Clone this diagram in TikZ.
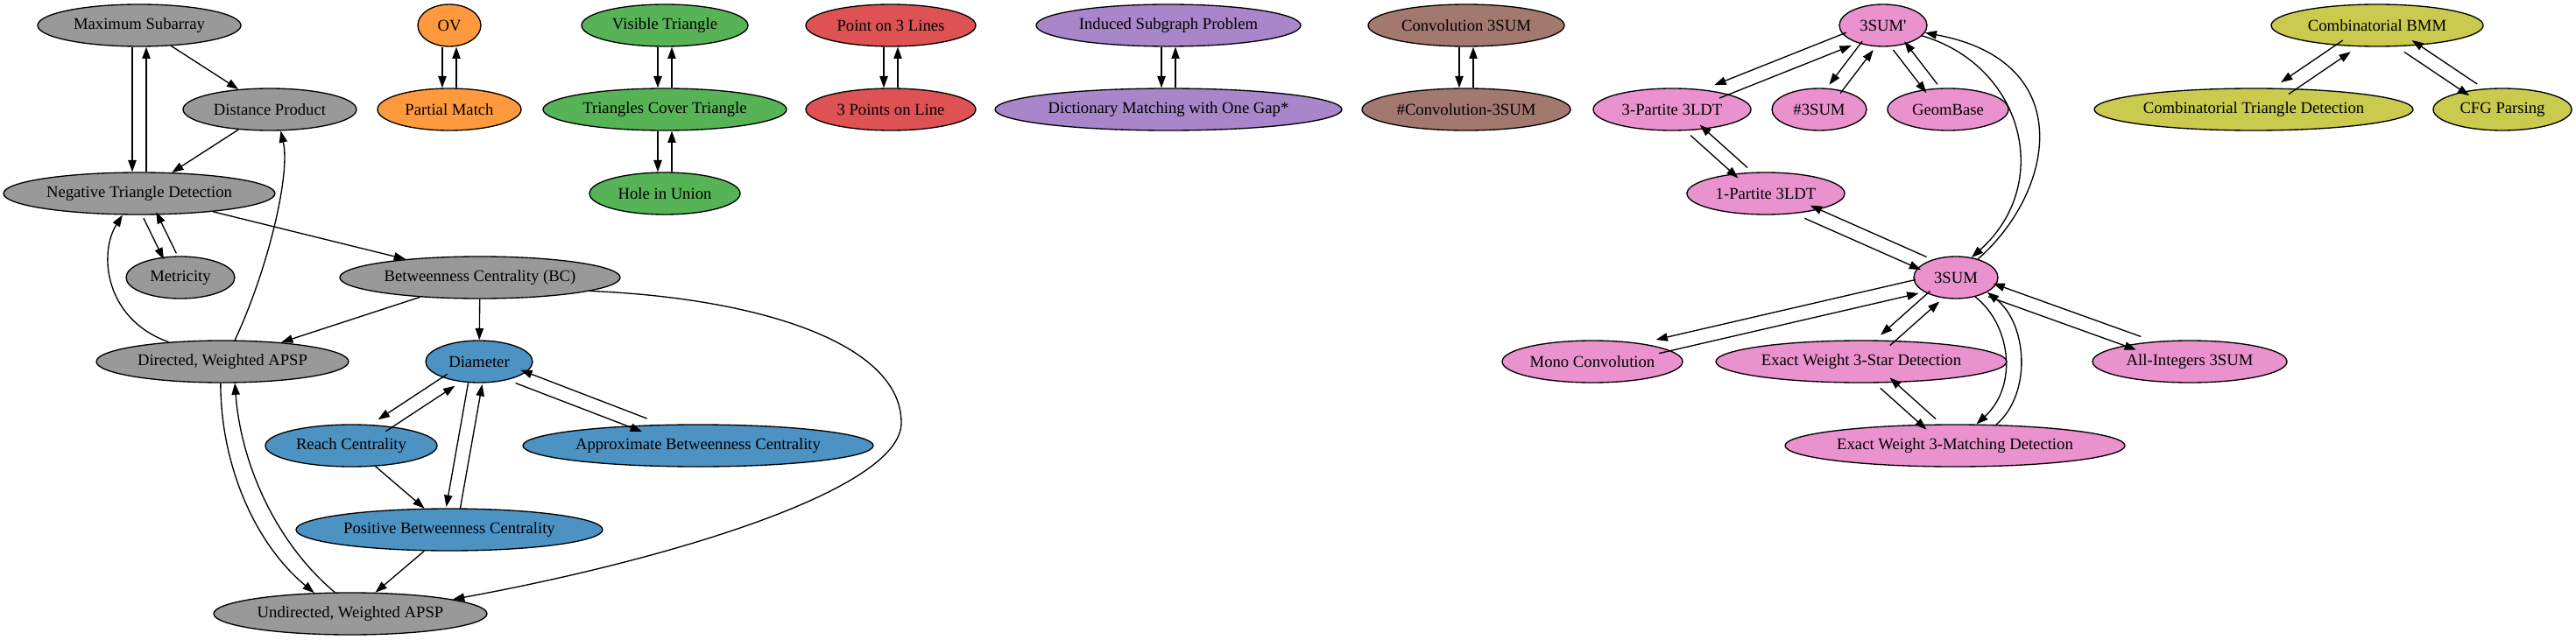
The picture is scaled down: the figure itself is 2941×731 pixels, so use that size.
\documentclass[tikz,border=0pt]{standalone}
\usepackage{fontspec}
\setmainfont{Liberation Serif}
\usetikzlibrary{shapes.geometric,arrows.meta,calc}
\definecolor{cgray}{HTML}{999999}
\definecolor{corange}{HTML}{FF993E}
\definecolor{cgreen}{HTML}{56B356}
\definecolor{cred}{HTML}{DE5253}
\definecolor{cpurple}{HTML}{A985CA}
\definecolor{cbrown}{HTML}{A3786F}
\definecolor{cpink}{HTML}{E992CE}
\definecolor{cblue}{HTML}{4C92C3}
\definecolor{colive}{HTML}{C9CA4E}
\tikzset{
  nd/.style={ellipse, draw=black, line width=1pt, inner sep=0pt, minimum height=36pt,
    font=\fontsize{14}{16}\selectfont},
  hw/.style={minimum width=#1*1.5pt},
  arr/.style={-{Triangle[length=10pt,width=7pt]}, line width=1pt},
}
\newcommand{\twoway}[2]{%
  \pgfmathanglebetweenpoints{\pgfpointanchor{#1}{center}}{\pgfpointanchor{#2}{center}}%
  \edef\twangle{\pgfmathresult}%
  \begin{scope}[transform canvas={shift={(\twangle-90:6pt)}}]\draw[arr] (#1) -- (#2);\end{scope}%
  \begin{scope}[transform canvas={shift={(\twangle+90:6pt)}}]\draw[arr] (#2) -- (#1);\end{scope}%
}
\begin{document}
\begin{tikzpicture}[x=0.75pt,y=-0.75pt]
\useasboundingbox (0,0) rectangle (2941,731);
% gray / blue cluster
\node[nd,fill=cgray,hw=116] (MS) at (159,29) {Maximum Subarray};
\node[nd,fill=cgray,hw=99] (DP) at (308,125) {Distance Product};
\node[nd,fill=cgray,hw=155] (NTD) at (159,221) {Negative Triangle Detection};
\node[nd,fill=cgray,hw=62] (Met) at (206,317) {Metricity};
\node[nd,fill=cgray,hw=160] (BC) at (548,317) {Betweenness Centrality (BC)};
\node[nd,fill=cgray,hw=144] (DWA) at (254,413) {Directed, Weighted APSP};
\node[nd,fill=cblue,hw=61] (Dia) at (547,413) {Diameter};
\node[nd,fill=cblue,hw=98] (RC) at (401,509) {Reach Centrality};
\node[nd,fill=cblue,hw=200] (ABC) at (797,509) {Approximate Betweenness Centrality};
\node[nd,fill=cblue,hw=175] (PBC) at (513,605) {Positive Betweenness Centrality};
\node[nd,fill=cgray,hw=156] (UWA) at (400,701) {Undirected, Weighted APSP};
% orange
\node[nd,fill=corange,hw=36] (OV) at (513,29) {OV};
\node[nd,fill=corange,hw=82] (PM) at (513,125) {Partial Match};
% green
\node[nd,fill=cgreen,hw=95] (VT) at (759,29) {Visible Triangle};
\node[nd,fill=cgreen,hw=139] (TCT) at (759,125) {Triangles Cover Triangle};
\node[nd,fill=cgreen,hw=86] (HU) at (759,221) {Hole in Union};
% red
\node[nd,fill=cred,hw=97] (P3L) at (1017,29) {Point on 3 Lines};
\node[nd,fill=cred,hw=97] (TPL) at (1017,125) {3 Points on Line};
% purple
\node[nd,fill=cpurple,hw=151] (ISP) at (1334,29) {Induced Subgraph Problem};
\node[nd,fill=cpurple,hw=198] (DM) at (1334,125) {Dictionary Matching with One Gap*};
% brown
\node[nd,fill=cbrown,hw=112] (C3) at (1674,29) {Convolution 3SUM};
\node[nd,fill=cbrown,hw=119] (NC3) at (1674,125) {\#Convolution-3SUM};
% pink
\node[nd,fill=cpink,hw=50] (S3p) at (2150,29) {3SUM\textquotesingle};
\node[nd,fill=cpink,hw=90] (P3) at (1909,125) {3-Partite 3LDT};
\node[nd,fill=cpink,hw=54] (NS3) at (2077,125) {\#3SUM};
\node[nd,fill=cpink,hw=69] (GB) at (2224,125) {GeomBase};
\node[nd,fill=cpink,hw=90] (P1) at (2016,221) {1-Partite 3LDT};
\node[nd,fill=cpink,hw=48] (S3) at (2233,317) {3SUM};
\node[nd,fill=cpink,hw=103] (MC) at (1818,413) {Mono Convolution};
\node[nd,fill=cpink,hw=166] (EW3S) at (2125,413) {Exact Weight 3-Star Detection};
\node[nd,fill=cpink,hw=111] (AI3) at (2500,413) {All-Integers 3SUM};
\node[nd,fill=cpink,hw=194] (EW3M) at (2232,509) {Exact Weight 3-Matching Detection};
% olive
\node[nd,fill=colive,hw=121] (CBMM) at (2714,29) {Combinatorial BMM};
\node[nd,fill=colive,hw=182] (CTD) at (2573,125) {Combinatorial Triangle Detection};
\node[nd,fill=colive,hw=79] (CFG) at (2857,125) {CFG Parsing};

% single edges
\draw[arr] (MS) -- (DP);
\draw[arr] (DP) -- (NTD);
\draw[arr] (NTD) -- (BC);
\draw[arr] (BC) -- (DWA);
\draw[arr] (BC) -- (Dia);
\draw[arr] (RC) -- (PBC);
\draw[arr] (PBC) -- (UWA);
\draw[arr] (DWA.160) .. controls (120,365) and (112,290) .. (NTD.-128);
\draw[arr] (DWA.60) .. controls (305,310) and (332,200) .. (DP.-63);
\draw[arr] (BC.-7) .. controls (860,340) and (1029,390) .. (1029,483) .. controls (1029,560) and (760,640) .. (UWA.8);
\draw[arr] (DWA.-95) .. controls (252,530) and (290,620) .. (UWA.150);
\draw[arr] (UWA.126) .. controls (315,620) and (275,530) .. (DWA.-60);
\draw[arr] (S3p.-15) .. controls (2310,75) and (2345,210) .. (S3.52);
\draw[arr] (S3.40) .. controls (2345,220) and (2375,70) .. (S3p.-10);
\draw[arr] (S3.-45) .. controls (2295,370) and (2305,440) .. (EW3M.45);
\draw[arr] (EW3M.27) .. controls (2320,450) and (2315,370) .. (S3.-25);

% two-way pairs
\twoway{MS}{NTD}
\twoway{NTD}{Met}
\twoway{Dia}{RC}
\twoway{Dia}{ABC}
\twoway{Dia}{PBC}
\twoway{OV}{PM}
\twoway{VT}{TCT}
\twoway{TCT}{HU}
\twoway{P3L}{TPL}
\twoway{ISP}{DM}
\twoway{C3}{NC3}
\twoway{S3p}{P3}
\twoway{S3p}{NS3}
\twoway{S3p}{GB}
\twoway{P3}{P1}
\twoway{P1}{S3}
\twoway{S3}{MC}
\twoway{S3}{EW3S}
\twoway{S3}{AI3}
\twoway{EW3S}{EW3M}
\twoway{CBMM}{CTD}
\twoway{CBMM}{CFG}
\end{tikzpicture}
\end{document}
